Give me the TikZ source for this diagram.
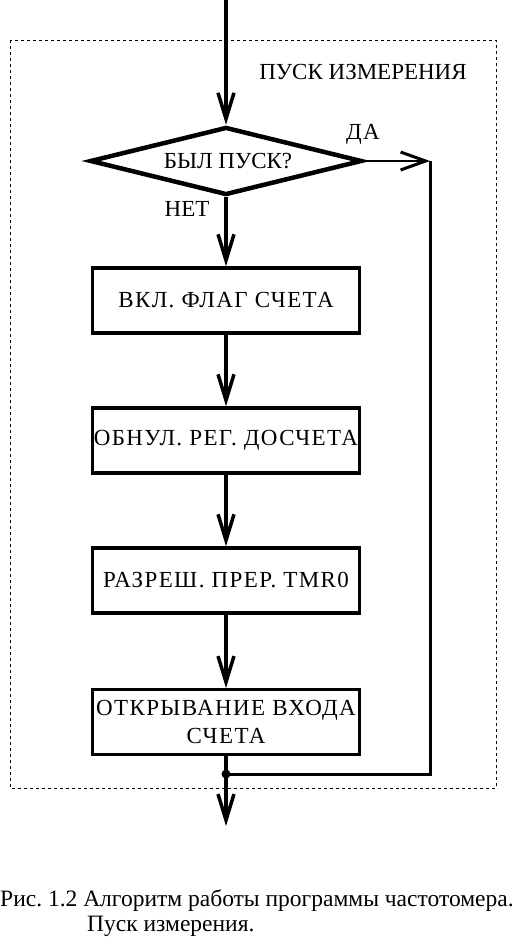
\documentclass[tikz,border=0pt]{standalone}
\usepackage{fontspec}
\setmainfont{Liberation Serif}
\newfontfamily\boxfont[LetterSpace=6]{Liberation Serif}
\usetikzlibrary{shapes.geometric,arrows.meta}
\begin{document}
\frenchspacing
\begin{tikzpicture}[x=1pt,y=-1pt,
  boxst/.style={draw,line width=3.5pt,minimum width=267pt,minimum height=65pt,inner sep=0pt,font=\boxfont\fontsize{23}{28}\selectfont,align=center},
  flow/.style={line width=3.5pt,-{Straight Barb[length=26pt,width=16pt,line width=3.5pt]}},
  txt/.style={font=\boxfont\fontsize{23}{28}\selectfont,inner sep=0pt}]
\useasboundingbox (0,0) rectangle (515,950);
\draw[line width=0.8pt,dash pattern=on 3pt off 3pt] (10,40) rectangle (496,788);
\node[txt,font=\fontsize{23}{28}\selectfont] (title) at (363,72) {ПУСК ИЗМЕРЕНИЯ};
\coordinate (top) at (226,0);
\node[diamond,draw,line width=4.5pt,minimum width=272pt,minimum height=68pt,inner sep=0pt] (d) at (226,161) {};
\node[txt,font=\fontsize{23}{28}\selectfont] (dtext) at (228,161) {БЫЛ ПУСК?};
\node[txt] (yes) at (363,134) {ДА};
\node[txt,font=\fontsize{23}{28}\selectfont] (no) at (187,209) {НЕТ};
\node[boxst] (b1) at (226,300.5) {ВКЛ. ФЛАГ СЧЕТА};
\node[boxst] (b2) at (226,440.5) {ОБНУЛ. РЕГ. ДОСЧЕТА};
\node[boxst] (b3) at (226,580.5) {РАЗРЕШ. ПРЕР. TMR0};
\node[boxst] (b4) at (226,722) {ОТКРЫВАНИЕ ВХОДА\\СЧЕТА};
\coordinate (rc) at (430,161);
\coordinate (rb) at (430,774);
\coordinate (j) at (226,774);
\coordinate (out) at (226,826);
\draw[flow] (top) -- (d.north);
\draw[line width=2pt,-{Straight Barb[length=25pt,width=18pt,line width=3pt]}] (d.east) -- (rc);
\draw[line width=3pt] (rc) -- (rb) -- (j);
\draw[flow] (d.south) -- (b1.north);
\draw[flow] (b1.south) -- (b2.north);
\draw[flow] (b2.south) -- (b3.north);
\draw[flow] (b3.south) -- (b4.north |- 0,688);
\draw[flow] (b4.south |- 0,753) -- (out);
\fill (j) circle (4.5pt);
\node[font=\fontsize{23.5}{25}\selectfont,align=left,anchor=north west,inner sep=0pt] (cap) at (0,889) {Рис. 1.2 Алгоритм работы программы частотомера.\\\hspace*{87pt}Пуск измерения.};
\end{tikzpicture}
\end{document}
